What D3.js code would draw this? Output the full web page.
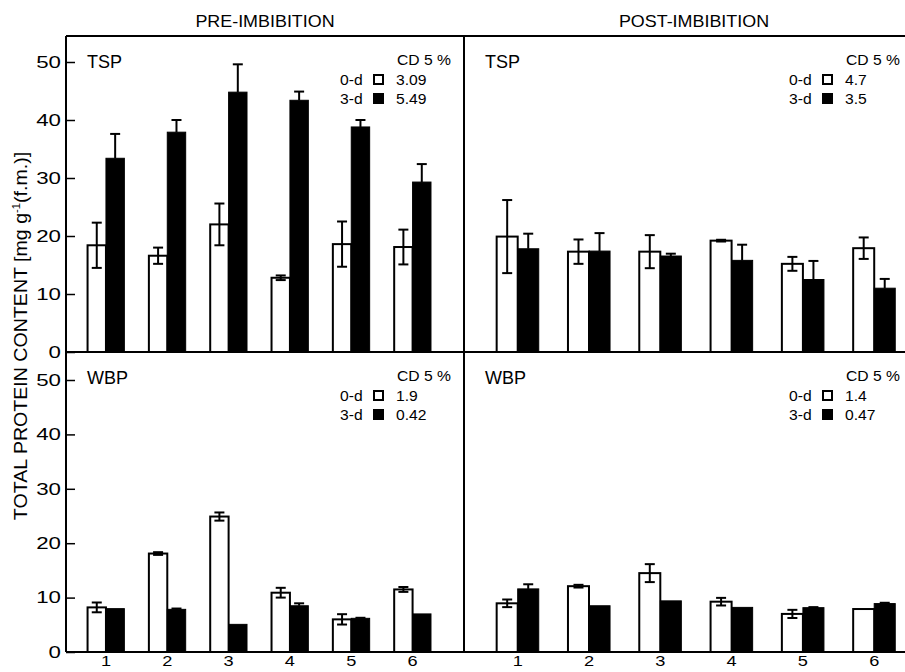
<!DOCTYPE html>
<html>
<head>
<meta charset="utf-8">
<script src="https://cdn.jsdelivr.net/npm/d3@7"></script>
<style>
  html, body { margin: 0; padding: 0; background: #fff; }
  svg { display: block; }
</style>
</head>
<body>
<svg id="chart" width="905" height="672"></svg>
<script>
// ---------------- data ----------------
const categories = ["1", "2", "3", "4", "5", "6"];
const yTicks = [0, 10, 20, 30, 40, 50];
const columnTitles = ["PRE-IMBIBITION", "POST-IMBIBITION"];
const rowLabels = ["TSP", "WBP"];
const legendNames = ["0-d", "3-d"];
const legendHeader = "CD 5 %";
const yAxisTitle = "TOTAL PROTEIN CONTENT [mg g";

// TSP, pre-imbibition
const preTSP0 = [18.4, 16.6, 22.0, 12.8, 18.6, 18.1];
const preTSP0Err = [3.9, 1.4, 3.6, 0.4, 3.9, 3.0];
const preTSP3 = [33.4, 37.9, 44.8, 43.4, 38.8, 29.3];
const preTSP3Err = [4.2, 2.1, 4.8, 1.5, 1.2, 3.1];
const preTSPcd = ["3.09", "5.49"];
// TSP, post-imbibition
const postTSP0 = [19.9, 17.3, 17.3, 19.2, 15.2, 17.9];
const postTSP0Err = [6.3, 2.1, 2.85, 0.15, 1.2, 1.85];
const postTSP3 = [17.8, 17.4, 16.55, 15.8, 12.5, 11.0];
const postTSP3Err = [2.6, 3.1, 0.4, 2.7, 3.2, 1.6];
const postTSPcd = ["4.7", "3.5"];
// WBP, pre-imbibition
const preWBP0 = [8.2, 18.1, 24.9, 10.9, 6.0, 11.5];
const preWBP0Err = [0.9, 0.25, 0.75, 0.9, 0.95, 0.45];
const preWBP3 = [7.97, 7.84, 5.08, 8.5, 6.19, 7.0];
const preWBP3Err = [0, 0.15, 0, 0.45, 0.1, 0];
const preWBPcd = ["1.9", "0.42"];
// WBP, post-imbibition
const postWBP0 = [8.95, 12.1, 14.5, 9.25, 7.0, 7.9];
const postWBP0Err = [0.7, 0.25, 1.65, 0.7, 0.75, 0];
const postWBP3 = [11.6, 8.5, 9.4, 8.2, 8.15, 8.9];
const postWBP3Err = [0.85, 0, 0, 0, 0.1, 0.15];
const postWBPcd = ["1.4", "0.47"];

// ---------------- layout ----------------
const FONT = "'Liberation Sans', Arial, Helvetica, sans-serif";
const svg = d3.select("#chart");
const leftX = 66, midX = 464, rightX = 905;
const topY = 36, midY = 352, botY = 652;

const xLeft = d3.scaleBand().domain(categories).range([leftX, midX])
  .paddingInner(0.4).paddingOuter(0.445).align(0.395);
const xRight = d3.scaleBand().domain(categories).range([midX, rightX])
  .paddingInner(0.41).paddingOuter(0.2975).align(0.77);
const yTop = d3.scaleLinear().domain([0, 50]).range([midY, 62]);
const yBot = d3.scaleLinear().domain([0, 50]).range([botY, 380]);

const panels = [
  {x: xLeft, y: yTop, s0: preTSP0, e0: preTSP0Err, s3: preTSP3, e3: preTSP3Err, label: rowLabels[0], cd: preTSPcd, right: 451, top: topY},
  {x: xRight, y: yTop, s0: postTSP0, e0: postTSP0Err, s3: postTSP3, e3: postTSP3Err, label: rowLabels[0], cd: postTSPcd, right: 900, top: topY},
  {x: xLeft, y: yBot, s0: preWBP0, e0: preWBP0Err, s3: preWBP3, e3: preWBP3Err, label: rowLabels[1], cd: preWBPcd, right: 451, top: midY},
  {x: xRight, y: yBot, s0: postWBP0, e0: postWBP0Err, s3: postWBP3, e3: postWBP3Err, label: rowLabels[1], cd: postWBPcd, right: 900, top: midY}
];

function stretchText(g, x, y, txt, size, sx, anchor) {
  return g.append("text")
    .attr("transform", `translate(${x},${y}) scale(${sx},1)`)
    .attr("text-anchor", anchor || "start")
    .attr("font-family", FONT)
    .attr("font-size", size)
    .attr("fill", "#000")
    .text(txt);
}

// ---------------- bars ----------------
panels.forEach(p => {
  const g = svg.append("g");
  const bw = p.x.bandwidth() / 2;
  const y0 = p.y(0);
  const rows = categories.map((c, i) => ({c, v0: p.s0[i], e0: p.e0[i], v3: p.s3[i], e3: p.e3[i]}));

  g.selectAll("rect.w").data(rows).join("rect")
    .attr("x", d => p.x(d.c)).attr("width", bw)
    .attr("y", d => p.y(d.v0)).attr("height", d => y0 - p.y(d.v0))
    .attr("fill", "#fff").attr("stroke", "#000").attr("stroke-width", 2);
  g.selectAll("rect.b").data(rows).join("rect")
    .attr("x", d => p.x(d.c) + bw).attr("width", bw)
    .attr("y", d => p.y(d.v3)).attr("height", d => y0 - p.y(d.v3))
    .attr("fill", "#000").attr("stroke", "#000").attr("stroke-width", 1);

  const cap = 5;
  rows.forEach(d => {
    const cx0 = p.x(d.c) + bw / 2;
    if (d.e0 > 0) {
      const a = p.y(d.v0 + d.e0), b = p.y(d.v0 - d.e0);
      g.append("line").attr("x1", cx0).attr("x2", cx0).attr("y1", a).attr("y2", b)
        .attr("stroke", "#000").attr("stroke-width", 2);
      [a, b].forEach(yy => g.append("line").attr("x1", cx0 - cap).attr("x2", cx0 + cap)
        .attr("y1", yy).attr("y2", yy).attr("stroke", "#000").attr("stroke-width", 2));
    }
    const cx3 = p.x(d.c) + bw * 1.5;
    if (d.e3 > 0) {
      const a = p.y(d.v3 + d.e3), b = p.y(d.v3);
      g.append("line").attr("x1", cx3).attr("x2", cx3).attr("y1", a).attr("y2", b)
        .attr("stroke", "#000").attr("stroke-width", 2);
      g.append("line").attr("x1", cx3 - cap).attr("x2", cx3 + cap)
        .attr("y1", a).attr("y2", a).attr("stroke", "#000").attr("stroke-width", 2);
    }
  });

  // panel label
  g.append("text").attr("x", p.x.range()[0] + 21).attr("y", p.top + 32)
    .attr("font-family", FONT).attr("font-size", 18).text(p.label);

  // legend
  const r = p.right;
  const b1 = p.top + 28.5, b2 = p.top + 48.5, b3 = p.top + 67.5;
  stretchText(g, r, b1, legendHeader, 14, 1.12, "end");
  stretchText(g, r - 111, b2, legendNames[0], 14, 1.12);
  stretchText(g, r - 111, b3, legendNames[1], 14, 1.12);
  g.append("rect").attr("x", r - 77).attr("y", b2 - 9.5).attr("width", 9).attr("height", 9)
    .attr("fill", "#fff").attr("stroke", "#000").attr("stroke-width", 2);
  g.append("rect").attr("x", r - 78).attr("y", b3 - 10.5).attr("width", 11).attr("height", 11)
    .attr("fill", "#000");
  stretchText(g, r - 55, b2, p.cd[0], 14, 1.12);
  stretchText(g, r - 55, b3, p.cd[1], 14, 1.12);
});

// ---------------- frame lines ----------------
const frame = svg.append("g").attr("stroke", "#000").attr("stroke-width", 2);
frame.append("line").attr("x1", leftX).attr("x2", rightX).attr("y1", topY).attr("y2", topY);
frame.append("line").attr("x1", leftX).attr("x2", rightX).attr("y1", midY).attr("y2", midY);
frame.append("line").attr("x1", leftX).attr("x2", rightX).attr("y1", botY).attr("y2", botY);
frame.append("line").attr("x1", leftX).attr("x2", leftX).attr("y1", topY).attr("y2", botY);
frame.append("line").attr("x1", midX).attr("x2", midX).attr("y1", topY).attr("y2", botY);

// ---------------- y axes ----------------
[yTop, yBot].forEach(ys => {
  const ax = svg.append("g").attr("transform", `translate(${leftX},0)`)
    .call(d3.axisLeft(ys).tickValues(yTicks).tickSizeInner(-9).tickSizeOuter(0).tickPadding(5));
  ax.select(".domain").remove();
  ax.selectAll(".tick line").attr("stroke", "#000").attr("stroke-width", 1.5);
  ax.selectAll(".tick text")
    .attr("font-family", FONT).attr("font-size", 16.5).attr("fill", "#000")
    .attr("x", -5 / 1.35)
    .attr("transform", "scale(1.35,1)");
});

// ---------------- x axes ----------------
[xLeft, xRight].forEach(xs => {
  const ax = svg.append("g").attr("transform", `translate(0,${botY})`)
    .call(d3.axisBottom(xs).tickSize(0).tickPadding(4));
  ax.select(".domain").remove();
  ax.selectAll(".tick text")
    .attr("font-family", FONT).attr("font-size", 14).attr("fill", "#000")
    .attr("transform", "scale(1.3,1)")
    .attr("x", 0);
});

// ---------------- titles ----------------
stretchText(svg, (leftX + midX) / 2, 26.7, columnTitles[0], 16, 1.12, "middle");
stretchText(svg, 694, 26.7, columnTitles[1], 16, 1.12, "middle");

// y axis title (rotated) with superscript
const yt = svg.append("text")
  .attr("transform", `translate(27,336) rotate(-90) scale(1.12,1)`)
  .attr("text-anchor", "middle")
  .attr("font-family", FONT).attr("font-size", 17.5).attr("fill", "#000");
yt.append("tspan").text(yAxisTitle);
yt.append("tspan").attr("dy", -7).attr("font-size", 10).text("-1");
yt.append("tspan").attr("dy", 7).text("(f.m.)]");
</script>
</body>
</html>
